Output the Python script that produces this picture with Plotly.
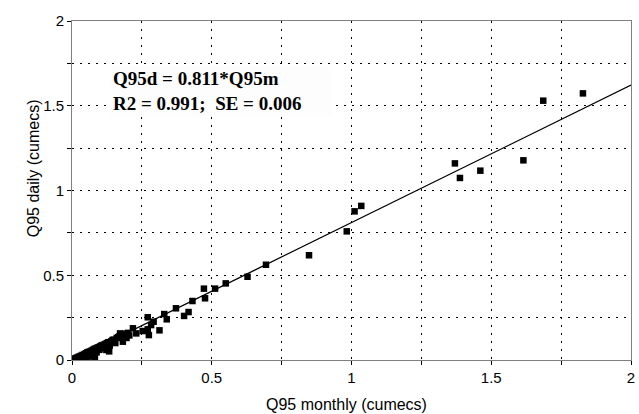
import plotly.graph_objects as go

# Observed points: Q95 monthly (x) vs Q95 daily (y), cumecs
q95_monthly = [
    0.005, 0.008, 0.010, 0.012, 0.015, 0.018, 0.020, 0.022, 0.025, 0.028,
    0.030, 0.032, 0.035, 0.038, 0.040, 0.042, 0.045, 0.048, 0.050, 0.052,
    0.055, 0.058, 0.060, 0.062, 0.065, 0.068, 0.070, 0.072, 0.075, 0.078,
    0.080, 0.082, 0.085, 0.088, 0.090, 0.095, 0.098, 0.100, 0.105, 0.108,
    0.110, 0.115, 0.120, 0.123, 0.125, 0.130, 0.133, 0.135, 0.140, 0.145,
    0.150, 0.155, 0.160, 0.165, 0.170, 0.172, 0.175, 0.180, 0.182, 0.185,
    0.190, 0.195, 0.200, 0.205,
    0.218, 0.230, 0.253, 0.275, 0.271, 0.271, 0.283, 0.292, 0.313, 0.330,
    0.339, 0.372, 0.401, 0.417, 0.431, 0.476, 0.472, 0.512, 0.550, 0.628,
    0.694, 0.848, 0.983, 1.011, 1.035, 1.370, 1.388, 1.461, 1.615, 1.686,
    1.828,
]
q95_daily = [
    0.004, 0.006, 0.008, 0.005, 0.012, 0.010, 0.015, 0.008, 0.020, 0.018,
    0.012, 0.025, 0.020, 0.030, 0.015, 0.028, 0.035, 0.022, 0.040, 0.010,
    0.045, 0.030, 0.048, 0.020, 0.050, 0.040, 0.055, 0.030, 0.060, 0.050,
    0.065, 0.012, 0.068, 0.045, 0.072, 0.075, 0.060, 0.080, 0.085, 0.070,
    0.088, 0.090, 0.095, 0.059, 0.100, 0.105, 0.051, 0.085, 0.110, 0.118,
    0.120, 0.100, 0.130, 0.135, 0.140, 0.157, 0.145, 0.150, 0.108, 0.152,
    0.155, 0.130, 0.160, 0.145,
    0.187, 0.157, 0.171, 0.147, 0.181, 0.252, 0.206, 0.226, 0.175, 0.271,
    0.240, 0.305, 0.260, 0.283, 0.348, 0.364, 0.421, 0.421, 0.452, 0.491,
    0.562, 0.618, 0.759, 0.877, 0.909, 1.160, 1.074, 1.117, 1.178, 1.530,
    1.573,
]

# Regression line endpoints: Q95d = 0.811*Q95m
fit_x = [0.0, 2.0]
fit_y = [0.0, 1.622]

tick_vals = [0, 0.5, 1, 1.5, 2]
tick_text = ["0", "0.5", "1", "1.5", "2"]

x_title = "Q95 monthly (cumecs)"
y_title = "Q95 daily (cumecs)"

fig = go.Figure()
fig.add_trace(go.Scatter(
    x=fit_x, y=fit_y, mode="lines",
    line=dict(color="black", width=1.2), hoverinfo="skip", showlegend=False,
))
fig.add_trace(go.Scatter(
    x=q95_monthly, y=q95_daily, mode="markers",
    marker=dict(symbol="square", size=6.5, color="black", line=dict(width=0)),
    showlegend=False,
))

axis_common = dict(
    range=[0, 2], tickvals=tick_vals, ticktext=tick_text,
    ticks="outside", ticklen=4, tickcolor="black",
    showgrid=False, zeroline=False,
    showline=True, linecolor="#808080", linewidth=1, mirror=True,
    tickfont=dict(family="Liberation Sans, Arial", size=15, color="black"),
    ticklabeloverflow="allow",
    minor=dict(dtick=0.25, tick0=0, ticks="outside", ticklen=4, tickcolor="black",
               showgrid=True, gridcolor="black", gridwidth=1, griddash="2px,6px"),
)

L, R, T, B = 72, 4, 21, 54
PW, PH = 639 - L - R, 414 - T - B

def px_x(p):
    return (p - L) / PW

def px_y(p):
    return (414 - B - p) / PH

fig.update_layout(
    width=639, height=414,
    margin=dict(l=L, r=R, t=T, b=B),
    paper_bgcolor="white", plot_bgcolor="white",
    xaxis=dict(**axis_common),
    yaxis=dict(**axis_common),
    annotations=[
        dict(
            xref="paper", yref="paper", x=px_x(110), y=px_y(65),
            xanchor="left", yanchor="top", align="left", showarrow=False,
            text="<b>Q95d = 0.811*Q95m</b><br><b>R2 = 0.991;  SE = 0.006</b>",
            font=dict(family="Liberation Serif, Times New Roman", size=19, color="black"),
            bgcolor="#fdfdfd", borderpad=2, width=216,
        ),
        dict(
            xref="paper", yref="paper", x=px_x(348), y=px_y(404),
            xanchor="center", yanchor="middle", showarrow=False,
            text=x_title,
            font=dict(family="Liberation Sans, Arial", size=16, color="black"),
        ),
        dict(
            xref="paper", yref="paper", x=px_x(33), y=px_y(168),
            xanchor="center", yanchor="middle", showarrow=False, textangle=-90,
            text=y_title,
            font=dict(family="Liberation Sans, Arial", size=16, color="black"),
        ),
    ],
)

fig.write_html("out.html")
